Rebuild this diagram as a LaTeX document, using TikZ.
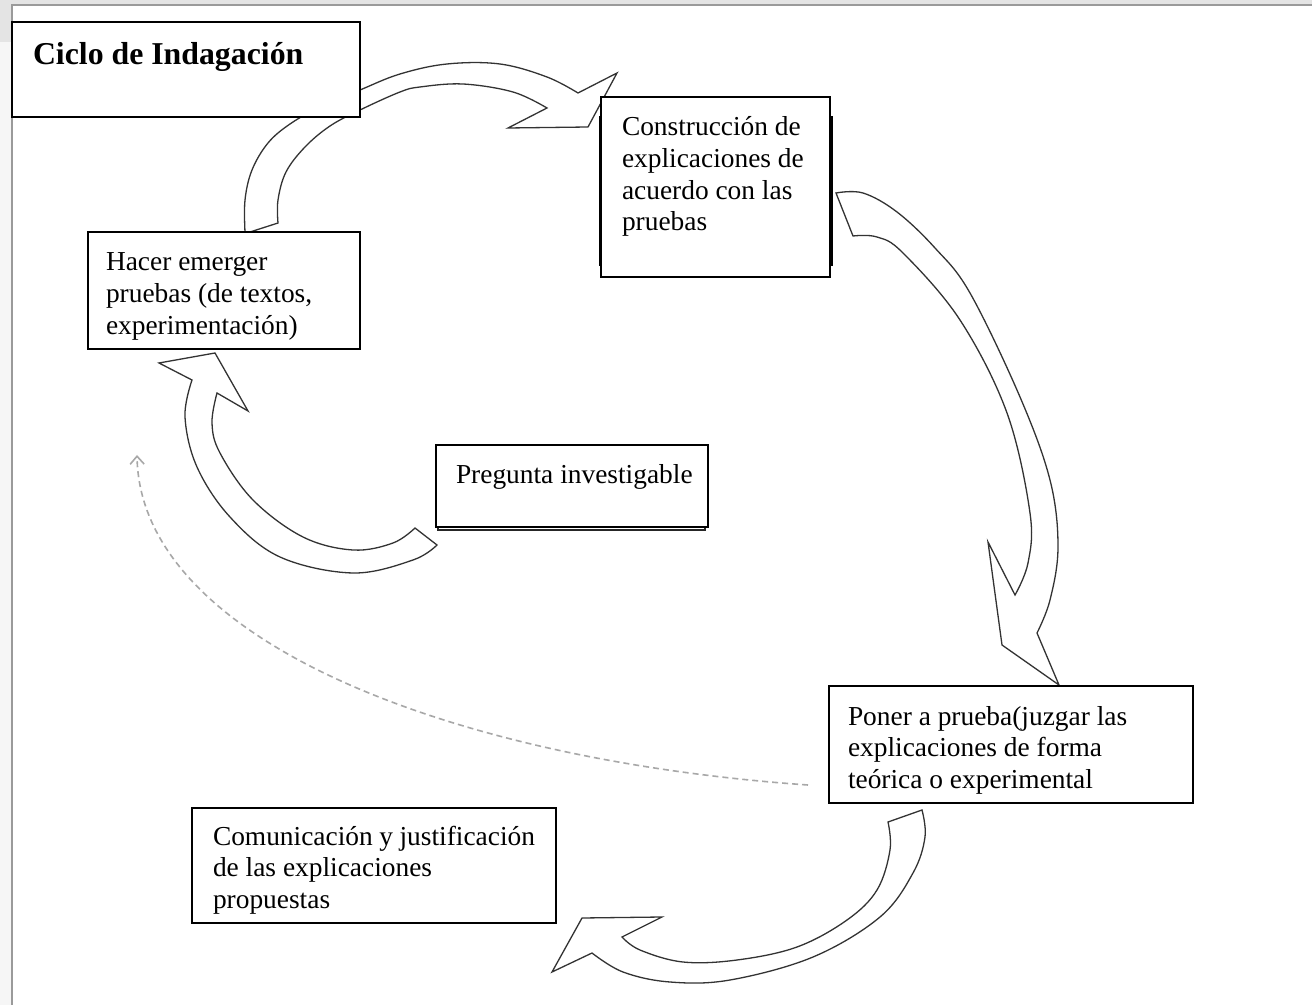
\documentclass[tikz,border=0pt]{standalone}
\usepackage{fontspec}
\setmainfont{Liberation Serif}
\usetikzlibrary{arrows.meta}
\newcommand\bodyfont{\fontsize{13.7}{15.8}\selectfont}
\newcommand\titlefont{\fontsize{15.9}{18}\selectfont\bfseries}
\newcommand\boxtxt[4]{\parbox[c][#1][t]{#2}{\raggedright\rule{0pt}{#3}#4}}
\definecolor{framegray}{HTML}{9A9A9A}
\definecolor{bandgray}{HTML}{E4E4E4}
\definecolor{stripgray}{HTML}{F6F6F6}
\definecolor{dashgray}{HTML}{A8A8A8}
\tikzset{
  box/.style={draw=black, line width=0.75pt, fill=white, inner ysep=0pt, outer sep=0pt, anchor=north west, font=\bodyfont, text=black},
  blockarrow/.style={draw=black!80, line width=0.65pt, fill=white, line join=miter},
  dashline/.style={draw=dashgray, line width=0.8pt, dash pattern=on 3pt off 2pt},
}
\begin{document}
\begin{tikzpicture}[x=0.5pt,y=-0.5pt]
\useasboundingbox (0,0) rectangle (1312,1005);
% frame / background
\fill[stripgray] (0,0) rectangle (1312,1005);
\fill[bandgray] (0,0) rectangle (1312,4);
\fill[bandgray] (0,0) rectangle (11,42);
\fill[white] (12,5) rectangle (1312,1005);
\draw[framegray, line width=1pt] (11.5,1005) -- (11.5,5) -- (1312,5);

% block arrow 1 (Hacer -> Construccion)
\draw[blockarrow] plot[smooth, tension=0.6] coordinates {(245,232) (245,200) (252,170) (268,143) (290,124) (320,107) (360,90) (400,74) (447,64) (500,64) (547,77) (578,93)}
  -- (617,73) -- (588,127) -- (508,128)
  -- plot[smooth, tension=0.6] coordinates {(547,108) (513,92) (463,84) (420,87) (400,92) (360,110) (330,126) (305,147) (286,172) (278,200) (278,223)} -- (250,232) -- cycle;

% block arrow 2 (Construccion -> Poner)
\draw[blockarrow] plot[smooth, tension=0.6] coordinates {(836,193) (863,193) (897,212) (935,248) (970,293) (1020,397) (1050,480) (1058,547) (1050,600) (1037,633)}
  -- (1059,685) -- (1002,645) -- (988,542)
  -- plot[smooth, tension=0.6] coordinates {(1015,595) (1028,563) (1030,513) (1007,413) (960,320) (903,253) (877,237) (853,236)} -- cycle;

% block arrow 3 (Pregunta -> Hacer)
\draw[blockarrow] (159,363) -- (215,353) -- (248,411)
  -- plot[smooth, tension=0.6] coordinates {(217,393) (212,423) (220,453) (253,500) (303,537) (353,550) (393,543) (415,528)}
  -- plot[smooth, tension=0.6] coordinates {(437,545) (413,560) (353,573) (280,557) (230,517) (197,467) (185,417) (192,380)} -- cycle;

% block arrow 4 (Poner -> Comunicacion)
\draw[blockarrow] plot[smooth, tension=0.6] coordinates {(888,822) (890,850) (877,890) (847,920) (797,947) (737,960) (683,962) (640,950) (622,937)}
  -- (662,917) -- (582,918) -- (552,972)
  -- plot[smooth, tension=0.6] coordinates {(592,953) (623,972) (670,982) (730,980) (813,957) (880,917) (913,873) (925,837) (922,810)} -- cycle;

% shadow rectangles
\draw[black, line width=1.2pt] (600,117) rectangle (831.5,265);
\draw[black!85, line width=0.9pt] (438,449) rectangle (705,530);

% boxes
\node[box, line width=1pt, inner xsep=10.5pt, font=\titlefont] (title) at (12,22) {\boxtxt{47.5pt}{153pt}{21.5pt}{Ciclo de Indagación}};
\node[box, inner xsep=10.5pt] (constr) at (601,97) {\boxtxt{90pt}{93.5pt}{19.5pt}{Construcción de\\explicaciones de\\acuerdo con las\\pruebas}};
\node[box, inner xsep=9pt] (hacer) at (88,232) {\boxtxt{58.5pt}{118pt}{19.5pt}{Hacer emerger\\pruebas (de textos,\\experimentación)}};
\node[box, inner xsep=10pt] (preg) at (436,445) {\boxtxt{41pt}{116pt}{19.5pt}{\mbox{Pregunta investigable}}};
\node[box, inner xsep=9.5pt] (poner) at (829,686) {\boxtxt{58.5pt}{163pt}{19.5pt}{Poner a prueba(juzgar las\\explicaciones de forma\\teórica o experimental}};
\node[box, inner xsep=10.5pt] (comun) at (192,808) {\boxtxt{57.5pt}{161pt}{18.5pt}{Comunicación y justificación\\de las explicaciones\\propuestas}};

% dashed return arrow
\coordinate (dstart) at (808,785);
\coordinate (dend) at (137,455);
\draw[dashline, -{Straight Barb[length=4pt,width=7pt]}] (dstart) .. controls (450,760) and (140,640) .. (dend);
\end{tikzpicture}
\end{document}
